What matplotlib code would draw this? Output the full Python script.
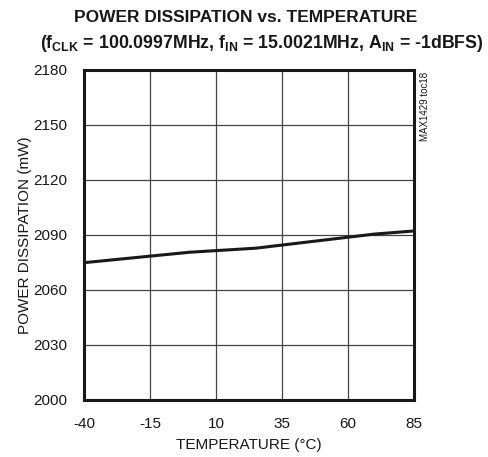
import matplotlib
matplotlib.use("Agg")
import matplotlib.pyplot as plt
from matplotlib import font_manager

names = {f.name for f in font_manager.fontManager.ttflist}
fam = 'Liberation Sans Narrow' if 'Liberation Sans Narrow' in names else 'Liberation Sans'
plt.rcParams['font.family'] = [fam, 'DejaVu Sans']
plt.rcParams['mathtext.fontset'] = 'custom'
plt.rcParams['mathtext.rm'] = fam
plt.rcParams['mathtext.bf'] = fam + ':bold'
plt.rcParams['mathtext.it'] = fam
plt.rcParams['axes.unicode_minus'] = False

temps = [-40, 0, 25, 70, 85]
power = [2074.9, 2080.6, 2082.8, 2090.5, 2092.2]
xticks = [-40, -15, 10, 35, 60, 85]
yticks = [2000, 2030, 2060, 2090, 2120, 2150, 2180]

fig = plt.figure(figsize=(4.89, 4.57), dpi=100)
ax = fig.add_axes([84/489, 57/457, 330/489, 330/457])
ax.plot(temps, power, color='#1a1718', lw=2.2, solid_capstyle='butt')
ax.set_xlim(-40, 85)
ax.set_ylim(2000, 2180)
ax.set_xticks(xticks)
ax.set_yticks(yticks)
ax.grid(True, color='#444444', lw=0.9)
ax.tick_params(axis='x', length=0, labelsize=11, pad=12, colors='#1a1718')
ax.tick_params(axis='y', length=0, labelsize=11, pad=12, colors='#1a1718')
for s in ax.spines.values():
    s.set_linewidth(2.2)
    s.set_color('#1a1718')
ax.set_xlabel('TEMPERATURE (°C)', fontsize=11, labelpad=5, color='#1a1718')
ax.set_ylabel('POWER DISSIPATION (mW)', fontsize=11, labelpad=1, color='#1a1718')

fig.text(246/489, 1 - 18/457, 'POWER DISSIPATION vs. TEMPERATURE', ha='center', va='center',
         fontsize=12.5, fontweight='bold', color='#1a1718')
fig.text(262/489, 1 - 44/457,
         r'(f$_{\mathbf{CLK}}$ = 100.0997MHz, f$_{\mathbf{IN}}$ = 15.0021MHz, A$_{\mathbf{IN}}$ = -1dBFS)',
         ha='center', va='center', fontsize=12.8, fontweight='bold', color='#1a1718')
fig.text(425/489, 1 - 72/457, 'MAX1429 toc18', rotation=90, ha='center', va='top',
         fontsize=7, color='#1a1718')
fig.savefig('out.png', dpi=100)
